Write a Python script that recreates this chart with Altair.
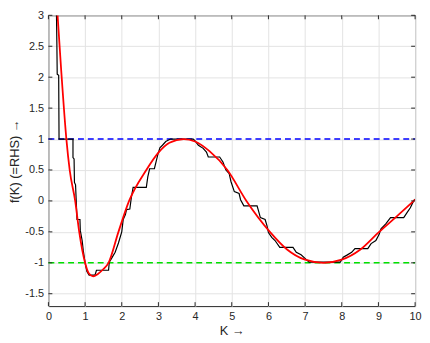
import altair as alt
import pandas as pd

# Smooth curve (red)
red_x = [0.25, 0.35, 0.49, 0.58, 0.73, 0.84, 1.0, 1.1, 1.22, 1.35, 1.5, 1.64, 1.91, 2.2, 2.67,
         3.0, 3.3, 3.69, 4.0, 4.4, 4.88, 5.4, 6.04, 6.5, 7.0, 7.5, 8.0, 8.5, 9.02, 9.5, 10.0]
red_y = [3.0, 2.1, 1.0, 0.5, 0.0, -0.5, -1.0, -1.17, -1.22, -1.18, -1.1, -1.0, -0.5, 0.0, 0.5,
         0.78, 0.94, 1.0, 0.96, 0.8, 0.5, 0.0, -0.5, -0.78, -0.95, -1.0, -0.95, -0.79, -0.5, -0.25, 0.02]

# Staircase curve (black) vertices
blk_x = [0.22, 0.23, 0.24, 0.28, 0.29, 0.67, 0.67, 0.70, 0.71, 0.74, 0.78, 0.86, 0.87, 0.92, 0.95,
         1.0, 1.05, 1.11, 1.27, 1.31, 1.64, 1.66, 1.73, 1.82, 1.91, 2.0, 2.04, 2.1, 2.13, 2.22,
         2.26, 2.31, 2.67, 2.71, 2.76, 2.89, 2.98, 3.04, 3.11, 3.2, 3.33, 3.95, 4.0, 4.09, 4.22,
         4.31, 4.36, 4.67, 4.76, 4.84, 4.93, 4.98, 5.07, 5.2, 5.24, 5.33, 5.69, 5.73, 5.78, 5.91,
         5.96, 6.0, 6.09, 6.18, 6.31, 6.67, 6.76, 6.89, 7.02, 7.11, 7.96, 8.04, 8.13, 8.27, 8.36,
         8.71, 8.8, 8.93, 9.02, 9.07, 9.2, 9.33, 9.69, 9.78, 9.87, 9.96, 10.0]
blk_y = [3.0, 2.57, 2.05, 2.03, 1.0, 1.0, 0.70, 0.68, 0.30, 0.26, -0.30, -0.30, -0.48, -0.64, -0.80,
         -1.0, -1.14, -1.2, -1.2, -1.12, -1.12, -0.99, -0.92, -0.83, -0.68, -0.5, -0.3, -0.22, -0.14, -0.13,
         0.05, 0.22, 0.22, 0.39, 0.52, 0.52, 0.74, 0.86, 0.9, 0.96, 1.0, 1.0, 0.97, 0.9, 0.85,
         0.79, 0.71, 0.71, 0.63, 0.5, 0.44, 0.31, 0.15, 0.12, 0.02, -0.08, -0.08, -0.16, -0.27, -0.3,
         -0.4, -0.51, -0.59, -0.64, -0.75, -0.75, -0.83, -0.87, -0.94, -0.99, -0.99, -0.91, -0.88, -0.83, -0.77,
         -0.77, -0.69, -0.64, -0.54, -0.45, -0.37, -0.27, -0.27, -0.19, -0.11, 0.0, 0.03]

# Reference levels
ref_levels = [1.0, -1.0]
ref_colors = ["#0000ff", "#00e000"]

x_ticks = [0, 1, 2, 3, 4, 5, 6, 7, 8, 9, 10]
y_ticks = [-1.5, -1, -0.5, 0, 0.5, 1, 1.5, 2, 2.5, 3]

W, H = 372, 295
FONT = "Liberation Sans"
TXT = "#262626"

red_df = pd.DataFrame({"K": red_x, "f": red_y, "o": list(range(len(red_x)))})
blk_df = pd.DataFrame({"K": blk_x, "f": blk_y, "o": list(range(len(blk_x)))})
xt_df = pd.DataFrame({"t": x_ticks})
yt_df = pd.DataFrame({"t": y_ticks})

xscale = alt.Scale(domain=[0, 10], nice=False, zero=False)
yscale = alt.Scale(domain=[-1.7, 3], nice=False, zero=False)

lbl = "datum.value + ''"
xaxis = alt.Axis(values=x_ticks, title="K  →", grid=True, ticks=False, domain=False,
                 labelPadding=5, titlePadding=3, labelExpr=lbl, labelFlush=False)
yaxis = alt.Axis(values=y_ticks, title="f(K) (=RHS)  →", grid=True, ticks=False, domain=False,
                 labelPadding=5, titlePadding=3, labelExpr=lbl, labelFlush=False)

rules = []
for lvl, col in zip(ref_levels, ref_colors):
    d = pd.DataFrame({"K": [0, 10], "f": [lvl, lvl]})
    rules.append(alt.Chart(d).mark_line(color=col, strokeWidth=1.6, strokeDash=[6, 4]).encode(
        x=alt.X("K:Q", scale=xscale, axis=xaxis),
        y=alt.Y("f:Q", scale=yscale, axis=yaxis)))

black = alt.Chart(blk_df).mark_line(color="black", strokeWidth=1.2, clip=True).encode(
    x=alt.X("K:Q", scale=xscale, axis=xaxis),
    y=alt.Y("f:Q", scale=yscale, axis=yaxis),
    order="o:Q")

red = alt.Chart(red_df).mark_line(color="#ff0000", strokeWidth=1.8, clip=True,
                                  interpolate="monotone").encode(
    x=alt.X("K:Q", scale=xscale, axis=xaxis),
    y=alt.Y("f:Q", scale=yscale, axis=yaxis),
    order="o:Q")

tk = dict(color=TXT, strokeWidth=1)
xt_bot = alt.Chart(xt_df).mark_rule(**tk).encode(x=alt.X("t:Q", scale=xscale, axis=xaxis),
                                                 y=alt.value(H), y2=alt.value(H - 4))
xt_top = alt.Chart(xt_df).mark_rule(**tk).encode(x=alt.X("t:Q", scale=xscale, axis=xaxis),
                                                 y=alt.value(0), y2=alt.value(4))
yt_l = alt.Chart(yt_df).mark_rule(**tk).encode(y=alt.Y("t:Q", scale=yscale, axis=yaxis),
                                               x=alt.value(0), x2=alt.value(4))
yt_r = alt.Chart(yt_df).mark_rule(**tk).encode(y=alt.Y("t:Q", scale=yscale, axis=yaxis),
                                               x=alt.value(W), x2=alt.value(W - 4))

chart = alt.layer(*rules, black, red, xt_bot, xt_top, yt_l, yt_r).properties(
    width=W, height=H,
    autosize=alt.AutoSizeParams(type="none"),
    padding={"left": 41, "top": 5, "right": 7, "bottom": 35},
).configure_view(stroke=TXT, strokeWidth=1).configure_axis(
    labelFont=FONT, titleFont=FONT, labelFontSize=11, titleFontSize=13,
    labelColor=TXT, titleColor=TXT, titleFontWeight="normal",
    gridColor="#e3e3e3", gridWidth=1,
)

chart.save("out.html", embed_options={"renderer": "svg", "actions": False})
